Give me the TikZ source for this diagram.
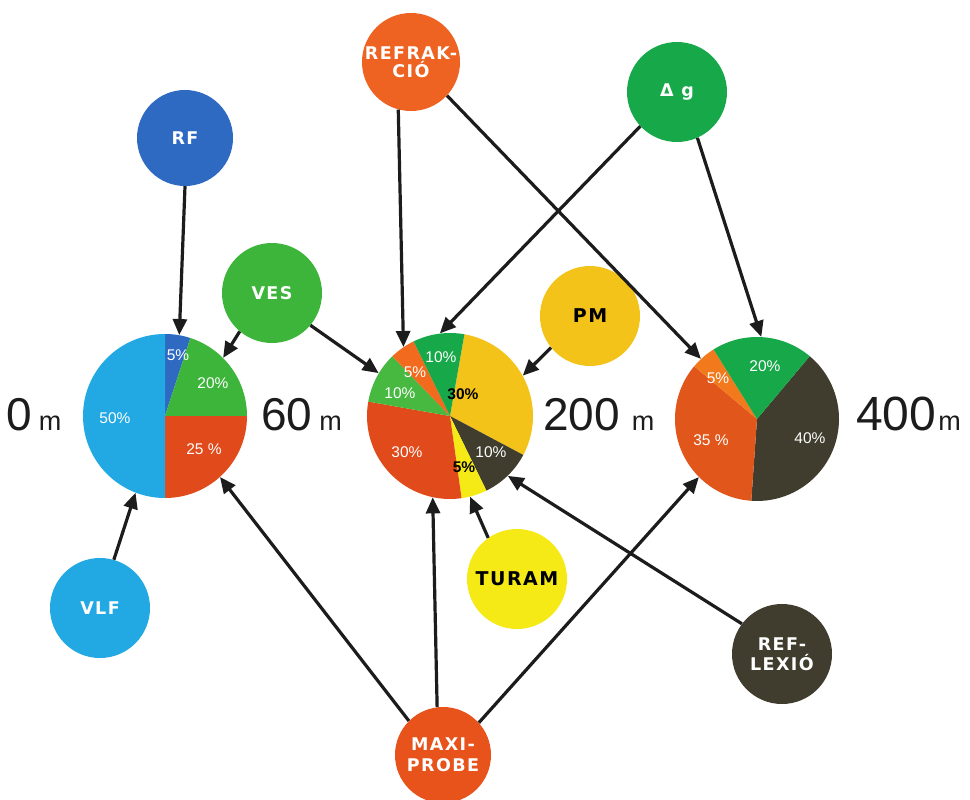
\documentclass[tikz,border=0pt]{standalone}
\usepackage{fontspec}
\setmainfont{Liberation Sans}
\newfontfamily\lblfont[LetterSpace=8]{DejaVu Sans}
\usetikzlibrary{arrows.meta}
\definecolor{skyb}{HTML}{22A9E4}
\definecolor{rfblue}{HTML}{2E69C2}
\definecolor{vesgreen}{HTML}{3DB53B}
\definecolor{ltgreen}{HTML}{47B840}
\definecolor{dkgreen}{HTML}{17A949}
\definecolor{redor}{HTML}{E14A1B}
\definecolor{orng}{HTML}{F26A1D}
\definecolor{refrc}{HTML}{EE6322}
\definecolor{gold}{HTML}{F4C31A}
\definecolor{brty}{HTML}{F6EA16}
\definecolor{olive}{HTML}{403D2E}
\definecolor{red3}{HTML}{E0561B}
\definecolor{orng3}{HTML}{F27A1C}
\definecolor{maxic}{HTML}{E8521B}
\definecolor{ink}{HTML}{1C1C1C}
\newcommand\pslice[5]{\fill[#5] (#1) -- +(#2:#4) arc[start angle=#2,end angle=#3,radius=#4] -- cycle;}
\begin{document}
\begin{tikzpicture}[x=1pt,y=1pt,
  src/.style={circle, minimum size=98pt, inner sep=0pt, align=center, text=white,
    font=\lblfont\bfseries\fontsize{17.5}{18}\selectfont},
  pienode/.style={circle, minimum size=#1, inner sep=0pt},
  arr/.style={draw=ink, line width=3.2pt, -{Triangle[length=16pt,width=14pt]}},
  plab/.style={text=white, inner sep=0pt, font=\fontsize{15.5}{17}\selectfont},
  blab/.style={text=black, inner sep=0pt, font=\bfseries\fontsize{15.5}{17}\selectfont},
  depth/.style={anchor=base west, inner sep=0pt, text=ink}]
\useasboundingbox (0,0) rectangle (970,-800);
\fill[white] (0,0) rectangle (970,-800);

% pie nodes
\node[pienode=164pt] (p0) at (165,-416) {};
\node[pienode=166pt] (p200) at (450,-416) {};
\node[pienode=164pt] (p400) at (757,-419) {};

% pie 0 m
\pslice{p0.center}{90}{72}{82}{rfblue}
\pslice{p0.center}{72}{0}{82}{vesgreen}
\pslice{p0.center}{0}{-90}{82}{redor}
\pslice{p0.center}{-90}{-270}{82}{skyb}

% pie 200 m
\pslice{p200.center}{80}{-28}{83}{gold}
\pslice{p200.center}{-28}{-64}{83}{olive}
\pslice{p200.center}{-64}{-82}{83}{brty}
\pslice{p200.center}{-82}{-190}{83}{redor}
\pslice{p200.center}{-190}{-226}{83}{ltgreen}
\pslice{p200.center}{-226}{-244}{83}{orng}
\pslice{p200.center}{-244}{-280}{83}{dkgreen}

% pie 400 m
\pslice{p400.center}{50}{-94}{82}{olive}
\pslice{p400.center}{-94}{-220}{82}{red3}
\pslice{p400.center}{-220}{-238}{82}{orng3}
\pslice{p400.center}{-238}{-310}{82}{dkgreen}

% pie labels
\node[plab] (a1) at (178,-355) {5\%};
\node[plab] (a2) at (213,-383) {20\%};
\node[plab] (a3) at (115,-418) {50\%};
\node[plab] (a4) at (204,-449) {25 \%};

\node[plab] (b1) at (441,-357) {10\%};
\node[plab] (b2) at (415,-372) {5\%};
\node[plab] (b3) at (400,-393) {10\%};
\node[blab] (b4) at (463,-394) {30\%};
\node[plab] (b5) at (407,-452) {30\%};
\node[plab] (b6) at (491,-452) {10\%};
\node[blab] (b7) at (464,-467) {5\%};

\node[plab] (c1) at (765,-366) {20\%};
\node[plab] (c2) at (718,-378) {5\%};
\node[plab] (c3) at (711,-440) {35 \%};
\node[plab] (c4) at (810,-438) {40\%};

% depth labels
\node[depth] (d0) at (6,-430) {\fontsize{46}{46}\selectfont 0\hspace{7pt}\fontsize{27}{27}\selectfont m};
\node[depth] (d60) at (261,-430) {\fontsize{46}{46}\selectfont 60\hspace{7pt}\fontsize{27}{27}\selectfont m};
\node[depth] (d200) at (543,-430) {\fontsize{46}{46}\selectfont 200\hspace{12pt}\fontsize{27}{27}\selectfont m};
\node[depth] (d400) at (856,-430) {\fontsize{48}{48}\selectfont 400\hspace{2pt}\fontsize{27}{27}\selectfont m};

% source circles
\node[src, fill=rfblue, minimum size=96pt] (rf) at (185,-138) {RF};
\node[src, fill=refrc] (refr) at (411,-62) {REFRAK-\\CIÓ};
\node[src, fill=dkgreen, minimum size=100pt] (dg) at (677,-92) {Δ g};
\node[src, fill=vesgreen, minimum size=100pt] (ves) at (272,-293) {VES};
\node[src, fill=gold, text=black, minimum size=100pt, font=\lblfont\bfseries\fontsize{19}{20}\selectfont] (pm) at (590,-316) {PM};
\node[src, fill=skyb, minimum size=100pt] (vlf) at (100,-608) {VLF};
\node[src, fill=brty, text=black, minimum size=100pt, font=\lblfont\bfseries\fontsize{19}{20}\selectfont] (turam) at (517,-579) {TURAM};
\node[src, fill=olive, minimum size=100pt, font=\lblfont\bfseries\fontsize{17.5}{20}\selectfont] (refl) at (782,-654) {REF-\\LEXIÓ};
\node[src, fill=maxic, minimum size=96pt, font=\lblfont\bfseries\fontsize{17.5}{21}\selectfont] (maxi) at (443,-755) {MAXI-\\PROBE};

% connectors
\draw[arr] (rf.south) -- (p0.80);
\draw[arr] (ves.230) -- (p0.45);
\draw[arr] (ves.-40) -- (p200.149);
\draw[arr] (refr.-105) -- (p200.124);
\draw[arr] (refr.-43) -- (p400.133);
\draw[arr] (dg.-137) -- (p200.97);
\draw[arr] (dg.-66) -- (p400.87);
\draw[arr] (pm.-141) -- (p200.29);
\draw[arr] (vlf.74) -- (p0.-111);
\draw[arr] (turam.125) -- (p200.-76);
\draw[arr] (refl.143) -- (p200.-46);
\draw[arr] (maxi.135) -- (p0.-48);
\draw[arr] (maxi.97) -- (p200.-102);
\draw[arr] (maxi.42) -- (p400.-135);
\end{tikzpicture}
\end{document}
